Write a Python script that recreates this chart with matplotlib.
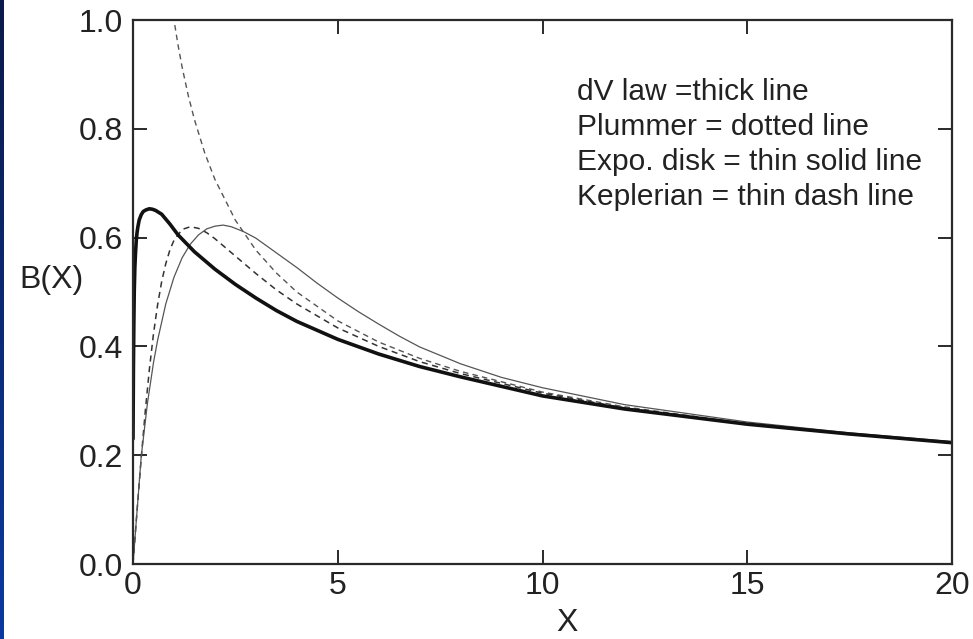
import numpy as np
import matplotlib.pyplot as plt

plt.rcParams['font.family'] = ['Liberation Sans', 'DejaVu Sans']

# ---- curve samples B(X) ----
# de Vaucouleurs law (thick line)
dv_x = [0.0, 0.01, 0.02, 0.03, 0.045, 0.06, 0.08, 0.1, 0.12, 0.15, 0.2, 0.25, 0.32, 0.4, 0.48,
        0.55, 0.7, 0.9, 1.1, 1.5, 2.0, 2.5, 3.0, 3.5, 4.0, 5.0, 6.0, 7.0, 8.0, 10.0, 12.0,
        15.0, 17.5, 20.0]
dv_b = [0.23, 0.36, 0.44, 0.50, 0.545, 0.57, 0.595, 0.61, 0.62, 0.632, 0.642, 0.648, 0.651, 0.653,
        0.652, 0.65, 0.643, 0.625, 0.605, 0.574, 0.542, 0.514, 0.489, 0.466, 0.446, 0.413, 0.386,
        0.363, 0.344, 0.309, 0.285, 0.257, 0.239, 0.223]

# Plummer sphere
pl_x = [0.0, 0.1, 0.2, 0.3, 0.4, 0.5, 0.6, 0.7, 0.8, 0.9, 1.0, 1.2, 1.4, 1.6, 1.8,
        2.0, 2.5, 3.0, 3.5, 4.0, 5.0, 6.0, 7.0, 8.0, 10.0, 12.0, 15.0, 17.5, 20.0]
pl_b = [0.0, 0.099, 0.194, 0.281, 0.358, 0.423, 0.476, 0.519, 0.552, 0.577, 0.595, 0.615, 0.620,
        0.617, 0.609, 0.598, 0.566, 0.534, 0.504, 0.478, 0.434, 0.400, 0.372, 0.350, 0.314, 0.287,
        0.257, 0.238, 0.223]

# exponential disk
ex_x = [0.0, 0.2, 0.35, 0.5, 0.6, 0.8, 1.0, 1.2, 1.4, 1.6, 1.8, 2.0, 2.2, 2.4, 2.7,
        3.0, 3.5, 4.0, 4.5, 5.0, 5.5, 6.0, 6.5, 7.0, 8.0, 9.0, 10.0, 12.0, 15.0, 17.5, 20.0]
ex_b = [0.0, 0.197, 0.294, 0.370, 0.411, 0.478, 0.527, 0.563, 0.588, 0.605, 0.616, 0.621, 0.623,
        0.620, 0.611, 0.599, 0.572, 0.545, 0.516, 0.489, 0.464, 0.441, 0.419, 0.399, 0.368, 0.343,
        0.324, 0.293, 0.261, 0.241, 0.225]

# Keplerian
kp_x = [0.95, 1.0, 1.1, 1.2, 1.35, 1.5, 1.75, 2.0, 2.5, 3.0, 3.5, 4.0, 5.0, 6.0, 7.0,
        8.0, 10.0, 12.0, 15.0, 17.5, 20.0]
kp_b = [1.026, 1.0, 0.954, 0.913, 0.861, 0.817, 0.756, 0.707, 0.632, 0.577, 0.535, 0.500, 0.447,
        0.408, 0.378, 0.354, 0.316, 0.289, 0.258, 0.239, 0.224]

notes = ["dV law =thick line", "Plummer = dotted line",
         "Expo. disk = thin solid line", "Keplerian = thin dash line"]

fig = plt.figure(figsize=(9.73, 6.39), dpi=100)
ax = fig.add_axes([133 / 973, 1 - 564 / 639, 819 / 973, 544 / 639])

# dark blue slide edge on the left
strip = fig.add_axes([0, 0, 4 / 973, 1])
strip.imshow(np.linspace(0, 1, 50).reshape(-1, 1), aspect='auto',
             cmap=plt.matplotlib.colors.LinearSegmentedColormap.from_list('edge', ['#0a1a4a', '#0a3aa0']),
             origin='upper')
strip.axis('off')

dash = (0, (4, 3))
ax.plot(kp_x, kp_b, color='#555555', lw=1.0, ls=dash)
ax.plot(pl_x, pl_b, color='#333333', lw=1.1, ls=dash)
ax.plot(ex_x, ex_b, color='#555555', lw=0.9)
ax.plot(dv_x, dv_b, color='#111111', lw=2.6, solid_capstyle='round', solid_joinstyle='round')

ax.set_xlim(0, 20)
ax.set_ylim(0, 1.0)
ax.set_xticks([0, 5, 10, 15, 20])
ax.set_yticks([0.0, 0.2, 0.4, 0.6, 0.8, 1.0])
ax.set_yticklabels(['0.0', '0.2', '0.4', '0.6', '0.8', '1.0'])

for s in ax.spines.values():
    s.set_linewidth(1.6)
    s.set_color('#2a2a2a')
ax.tick_params(direction='in', length=10, width=1.4, color='#2a2a2a',
               top=True, right=True, labelsize=23, labelcolor='#222222')
ax.tick_params(axis='x', pad=5)
ax.tick_params(axis='y', pad=7)

ax.set_xlabel('X', fontsize=23, color='#222222', va='center')
ax.xaxis.set_label_coords(0.53, -0.108)
ax.text(-0.100, 0.522, 'B(X)', transform=ax.transAxes, fontsize=23,
        ha='center', va='center', color='#222222')

for i, t in enumerate(notes):
    ax.text(0.542, 0.868 - i * 0.0643, t, transform=ax.transAxes,
            fontsize=21.5, ha='left', va='center', color='#222222')

fig.savefig('out.png', dpi=100)
